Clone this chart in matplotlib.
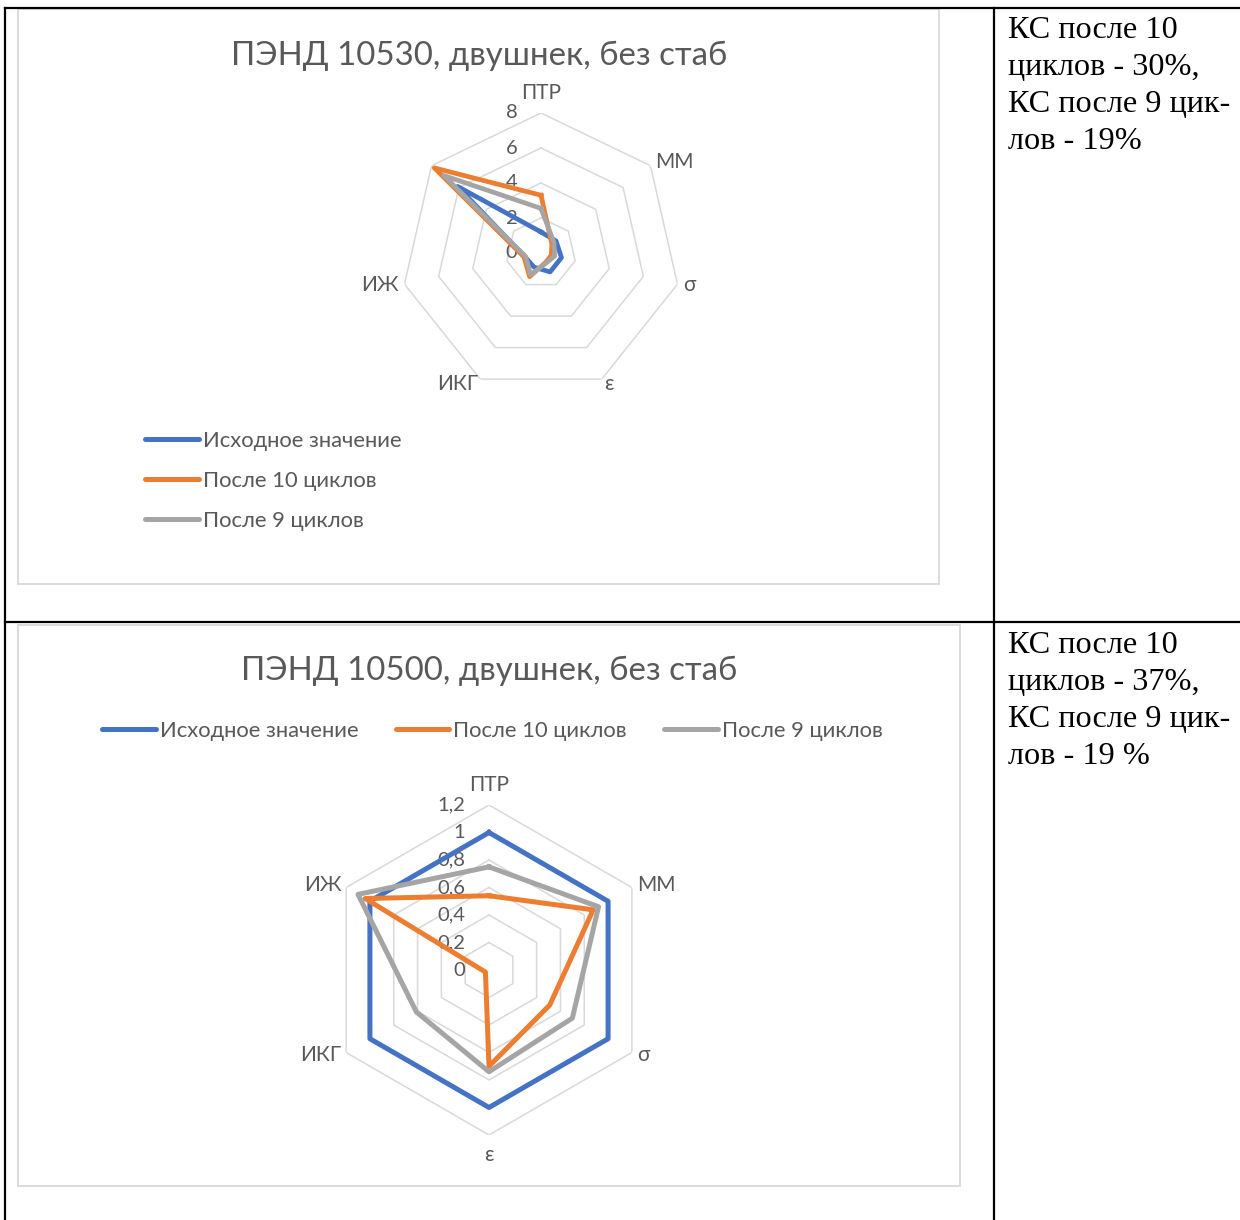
import numpy as np
import matplotlib.pyplot as plt
from matplotlib.lines import Line2D
from matplotlib.patches import Rectangle

plt.rcParams['font.family'] = ['Lato', 'DejaVu Sans']

W, H = 1240, 1220

# top chart: 7 axes, the last one has no name
cats_top = ['ПТР', 'ММ', 'σ', 'ε', 'ИКГ', 'ИЖ', '']
top_initial = [1.2, 1.1, 1.2, 1.2, 0.9, 0.95, 6.1]
top_after10 = [3.3, 0.8, 0.6, 0.6, 1.5, 1.0, 7.8]
top_after9 = [2.55, 0.95, 0.8, 0.65, 1.37, 0.9, 7.1]
top_ticks = [0, 2, 4, 6, 8]
top_tick_labels = ['0', '2', '4', '6', '8']

# bottom chart
cats_bot = ['ПТР', 'ММ', 'σ', 'ε', 'ИКГ', 'ИЖ']
bot_initial = [1.0, 1.0, 1.0, 1.0, 1.0, 1.0]
bot_after10 = [0.54, 0.875, 0.51, 0.70, 0.03, 1.04]
bot_after9 = [0.75, 0.92, 0.70, 0.74, 0.61, 1.10]
bot_ticks = [0, 0.2, 0.4, 0.6, 0.8, 1.0, 1.2]
bot_tick_labels = ['0', '0,2', '0,4', '0,6', '0,8', '1', '1,2']

series_names = ['Исходное значение', 'После 10 циклов', 'После 9 циклов']
colors = ['#4472C4', '#ED7D31', '#A5A5A5']

notes = ['КС после 10\nциклов - 30%,\nКС после 9 цик-\nлов - 19%',
         'КС после 10\nциклов - 37%,\nКС после 9 цик-\nлов - 19 %']

TXT = '#595959'
GRID = '#d9d9d9'


def fx(x):
    return x / W


def fy(y):
    return 1 - y / H


fig = plt.figure(figsize=(W / 100, H / 100), dpi=100)


def radar(cx, cy, rad, cats, series, ticks, tick_labels, lw):
    ax = fig.add_axes([fx(cx - rad), fy(cy + rad), 2 * rad / W, 2 * rad / H],
                      projection='polar')
    n = len(cats)
    theta = np.arange(n) * 2 * np.pi / n
    ax.set_theta_zero_location('N')
    ax.set_theta_direction(-1)
    ax.set_ylim(0, ticks[-1])
    ax.axis('off')
    closed = np.append(theta, theta[0])
    for t in ticks[1:]:
        ax.plot(closed, [t] * (n + 1), color=GRID, lw=1.1, zorder=1)
    for vals, c in zip(series, colors):
        ax.plot(closed, list(vals) + [vals[0]], color=c, lw=lw, zorder=3)
    for t, lab in zip(ticks, tick_labels):
        ax.annotate(lab, xy=(0, t), xytext=(-17, 0), textcoords='offset points',
                    ha='right', va='center', fontsize=14.5, color=TXT,
                    annotation_clip=False, zorder=2)
    for a, cat in zip(theta, cats):
        dx, dy = np.sin(a), np.cos(a)
        ha = 'left' if dx > 0.1 else ('right' if dx < -0.1 else 'center')
        va = 'bottom' if dy > 0.95 else ('top' if dy < -0.95 else 'center')
        off = 7 if abs(dy) > 0.95 else 4
        ax.annotate(cat, xy=(a, ticks[-1]), xytext=(off * dx, off * dy),
                    textcoords='offset points', ha=ha, va=va, fontsize=15,
                    color=TXT, annotation_clip=False)
    return ax


# table rules
rule = dict(color='black', lw=1.6, transform=fig.transFigure)
fig.add_artist(Line2D([fx(5), fx(1240)], [fy(7.5), fy(7.5)], **rule))
fig.add_artist(Line2D([fx(5), fx(1240)], [fy(622), fy(622)], **rule))
fig.add_artist(Line2D([fx(5), fx(5)], [fy(7.5), fy(1220)], **rule))
fig.add_artist(Line2D([fx(994), fx(994)], [fy(7.5), fy(1220)], **rule))

# chart frames
for x0, y0, x1, y1 in [(18, 9, 939, 584), (18, 625, 960, 1186)]:
    fig.add_artist(Rectangle((fx(x0), fy(y1)), fx(x1 - x0), (y1 - y0) / H,
                             transform=fig.transFigure, fill=False,
                             ec=GRID, lw=1.3))

handles = [Line2D([], [], color=c, lw=3.6, solid_capstyle='round') for c in colors]
leg_style = dict(frameon=False, fontsize=15.8, labelcolor=TXT,
                 handlelength=2.45, handletextpad=0.18, borderpad=0,
                 borderaxespad=0)

# ---- top chart ----
radar(541, 253, 140, cats_top, [top_initial, top_after10, top_after9],
      top_ticks, top_tick_labels, 3.4)
fig.text(fx(479), fy(56), 'ПЭНД 10530, двушнек, без стаб', ha='center',
         va='center', fontsize=23.8, color=TXT)
fig.legend(handles, series_names, loc='upper left',
           bbox_to_anchor=(fx(145), fy(431)), labelspacing=0.91, **leg_style)

# ---- bottom chart ----
radar(489, 970, 165, cats_bot, [bot_initial, bot_after10, bot_after9],
      bot_ticks, bot_tick_labels, 3.6)
fig.text(fx(489), fy(671), 'ПЭНД 10500, двушнек, без стаб', ha='center',
         va='center', fontsize=23.8, color=TXT)
fig.legend(handles, series_names, loc='center left', ncol=3,
           bbox_to_anchor=(fx(102), fy(731)), columnspacing=1.7, **leg_style)

# notes in the right column
for y0, note in zip([16, 631], notes):
    fig.text(fx(1008), fy(y0), note, ha='left', va='top', fontsize=23.2,
             family='Liberation Serif', linespacing=1.36, color='black')

fig.savefig('out.png', dpi=100)
